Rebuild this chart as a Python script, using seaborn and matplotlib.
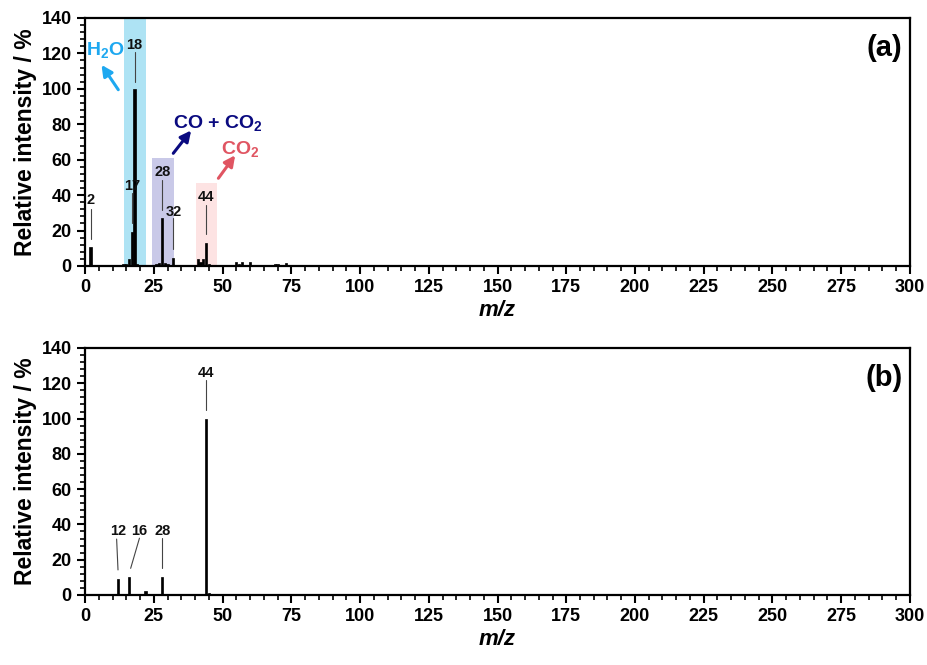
import matplotlib
matplotlib.use("Agg")
import matplotlib.pyplot as plt
import seaborn as sns
import pandas as pd
from matplotlib.ticker import MultipleLocator

sns.set_theme(style="ticks")
plt.rcParams['font.family'] = ['Liberation Sans', 'DejaVu Sans']
plt.rcParams['mathtext.fontset'] = 'custom'
plt.rcParams['mathtext.rm'] = 'Liberation Sans'
plt.rcParams['mathtext.bf'] = 'Liberation Sans:bold'
plt.rcParams['text.color'] = 'black'
plt.rcParams['axes.labelcolor'] = 'black'
plt.rcParams['xtick.color'] = 'black'
plt.rcParams['ytick.color'] = 'black'

# ---- data ----
mz_a = [2, 12, 13, 14, 15, 16, 17, 18, 19, 20, 26, 27, 28, 29, 30, 31, 32,
        40, 41, 42, 43, 44, 45, 55, 56, 57, 60, 69, 70, 73, 84, 86, 88]
int_a = [10.5, 0.5, 0.5, 1, 1, 4, 19, 100, 1, 0.5, 1, 1.5, 27, 1.5, 1, 0.5, 4.3,
         0.5, 3.8, 2, 3.8, 12.8, 1, 2, 1, 2, 2, 1, 1, 1.5, 0.5, 0.5, 0.5]

mz_b = [12, 16, 22, 28, 44, 45]
int_b = [9, 10, 2, 10, 100, 1]

# peak labels: (label, text x, text y, line x0, y0, x1, y1)
labels_a = [("2", 2.2, 37, 2, 32, 2, 15),
            ("18", 18, 125, 18, 121, 18, 104),
            ("17", 17, 45, 17, 41, 17, 24),
            ("28", 28.1, 53, 28, 48.5, 28, 31.6),
            ("32", 32.4, 30.7, 32, 27, 32, 9.4),
            ("44", 44, 38.8, 44, 34.4, 44, 18)]
labels_b = [("44", 44, 126, 44, 122, 44, 105),
            ("12", 11.9, 36, 11.5, 31.7, 12, 14.2),
            ("16", 19.6, 36.5, 19.8, 32.2, 16.6, 15.1),
            ("28", 28.1, 36.5, 28, 32.2, 28, 15.1)]

# shaded regions: (x0, x1, top, color)
spans_a = [(14.2, 22.2, 140, "#aee3f4"),
           (24.4, 32.4, 61, "#c9c9e8"),
           (40.4, 48.0, 47, "#fde3e3")]

df_a = pd.DataFrame({"mz": mz_a, "intensity": int_a})
df_b = pd.DataFrame({"mz": mz_b, "intensity": int_b})

fig = plt.figure(figsize=(9.28, 6.65), dpi=100)
ax_a = fig.add_axes([0.0916, 0.600, 0.889, 0.373])
ax_b = fig.add_axes([0.0916, 0.1053, 0.889, 0.3714])

def style(ax):
    ax.set_xlim(0, 300)
    ax.set_ylim(0, 140)
    ax.xaxis.set_major_locator(MultipleLocator(25))
    ax.xaxis.set_minor_locator(MultipleLocator(5))
    ax.yaxis.set_major_locator(MultipleLocator(20))
    ax.yaxis.set_minor_locator(MultipleLocator(4))
    ax.tick_params(which='major', direction='out', length=6, width=1.5, labelsize=13)
    ax.tick_params(which='minor', direction='out', length=3.5, width=1.2)
    for s in ax.spines.values():
        s.set_linewidth(1.6)
        s.set_color("black")
    for lab in ax.get_xticklabels() + ax.get_yticklabels():
        lab.set_fontweight('bold')
    ax.set_xlabel("m/z", fontsize=16, fontweight='bold', fontstyle='italic', labelpad=3)
    ax.set_ylabel("Relative intensity / %", fontsize=16.5, fontweight='bold', labelpad=3)

def draw_bars(ax, df):
    sns.barplot(data=df, x="mz", y="intensity", native_scale=True, width=0.8,
                color="black", saturation=1, edgecolor="black", linewidth=0.5, ax=ax)

for x0, x1, top, c in spans_a:
    ax_a.fill_between([x0, x1], 0, top, color=c, zorder=0.5, linewidth=0)

draw_bars(ax_a, df_a)
draw_bars(ax_b, df_b)

for ax, labs in ((ax_a, labels_a), (ax_b, labels_b)):
    for t, tx, ty, x0, y0, x1, y1 in labs:
        ax.text(tx, ty, t, ha='center', va='center', fontsize=10.5, fontweight='bold',
                color='#111111', zorder=5)
        ax.plot([x0, x1], [y0, y1], color='#444444', lw=0.8, zorder=5)

# species annotations (panel a)
arrow = dict(arrowstyle='-|>', lw=2.2, mutation_scale=16, shrinkA=0, shrinkB=0)
ax_a.annotate("", xy=(6.0, 113.5), xytext=(12.1, 99.5),
              arrowprops=dict(color='#1ea8f0', **arrow))
ax_a.text(7.3, 121.6, r"H$_\mathbf{2}$O", color='#1ea8f0', fontsize=14, fontweight='bold',
          ha='center', va='center')
ax_a.annotate("", xy=(38.6, 76.5), xytext=(32.1, 63.6),
              arrowprops=dict(color='#0a0a80', **arrow))
ax_a.text(48.5, 80.5, r"CO + CO$_\mathbf{2}$", color='#0a0a80', fontsize=14, fontweight='bold',
          ha='center', va='center')
ax_a.annotate("", xy=(54.6, 62.5), xytext=(48.5, 49.5),
              arrowprops=dict(color='#e05562', **arrow))
ax_a.text(56.6, 65.5, r"CO$_\mathbf{2}$", color='#e05562', fontsize=14, fontweight='bold',
          ha='center', va='center')

ax_a.text(0.991, 0.88, "(a)", transform=ax_a.transAxes, ha='right', va='center',
          fontsize=21, fontweight='bold')
ax_b.text(0.991, 0.88, "(b)", transform=ax_b.transAxes, ha='right', va='center',
          fontsize=21, fontweight='bold')

style(ax_a)
style(ax_b)

fig.savefig("out.png", dpi=100)
